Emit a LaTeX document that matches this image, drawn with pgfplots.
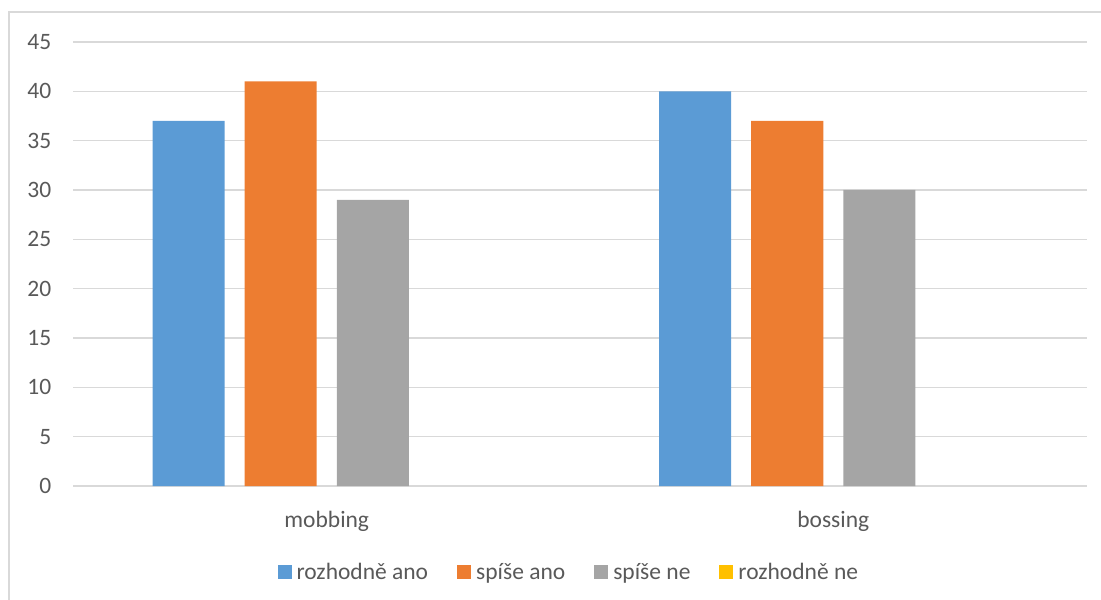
\documentclass[border=0pt]{standalone}
\usepackage{pgfplots}
\pgfplotsset{compat=1.18}
\usepackage{fontspec}
\setmainfont{Carlito}

\definecolor{serA}{HTML}{5B9BD5}
\definecolor{serB}{HTML}{ED7D31}
\definecolor{serC}{HTML}{A5A5A5}
\definecolor{serD}{HTML}{FFC000}
\definecolor{gridc}{HTML}{D9D9D9}
\definecolor{txt}{HTML}{595959}

\begin{document}
\begin{tikzpicture}[x=1pt,y=1pt]
\useasboundingbox (0,0) rectangle (1101,600);
% chart area frame
\draw[gridc, line width=1.5pt] (9,0) -- (9,588) -- (1101,588);
\begin{axis}[
  at={(73.5pt,114pt)}, anchor=south west,
  scale only axis, width=1013pt, height=444pt,
  ybar, bar width=0.1423,
  xmin=-0.5, xmax=1.5, ymin=0, ymax=45,
  xtick={0,1}, xticklabels={mobbing,bossing},
  ytick={0,5,...,45},
  /pgf/number format/assume math mode=true,
  axis line style={draw=none}, tick style={draw=none},
  ymajorgrids, grid style={gridc, line width=1.4pt},
  font=\fontsize{23.5}{28}\selectfont,
  tick label style={txt, inner sep=0pt},
  yticklabel style={anchor=east, xshift=-22pt},
  xticklabel style={anchor=north, yshift=-21pt},
  legend style={at={(0.488,-0.194)}, anchor=center, draw=none, fill=none,
    text=txt, legend columns=4, nodes={inner sep=0pt},
    /tikz/every odd column/.append style={column sep=5pt},
    /tikz/every even column/.append style={column sep=29pt}},
  legend image code/.code={\fill[#1] (0pt,-7pt) rectangle (14pt,7pt);},
]
\addplot[fill=serA, draw=none, bar shift=-0.2727] coordinates {(0,37) (1,40)};
\addplot[fill=serB, draw=none, bar shift=-0.0909] coordinates {(0,41) (1,37)};
\addplot[fill=serC, draw=none, bar shift=0.0909] coordinates {(0,29) (1,30)};
% zero-height bars leave nothing visible; their legend key is added separately
\addplot[fill=serD, draw=none, bar shift=0.2727, forget plot,
  restrict y to domain=0.001:100] coordinates {(0,0) (1,0)};
\addlegendimage{fill=serD, draw=none}
\legend{rozhodně ano, spíše ano, spíše ne, rozhodně ne}
\end{axis}
\end{tikzpicture}
\end{document}
